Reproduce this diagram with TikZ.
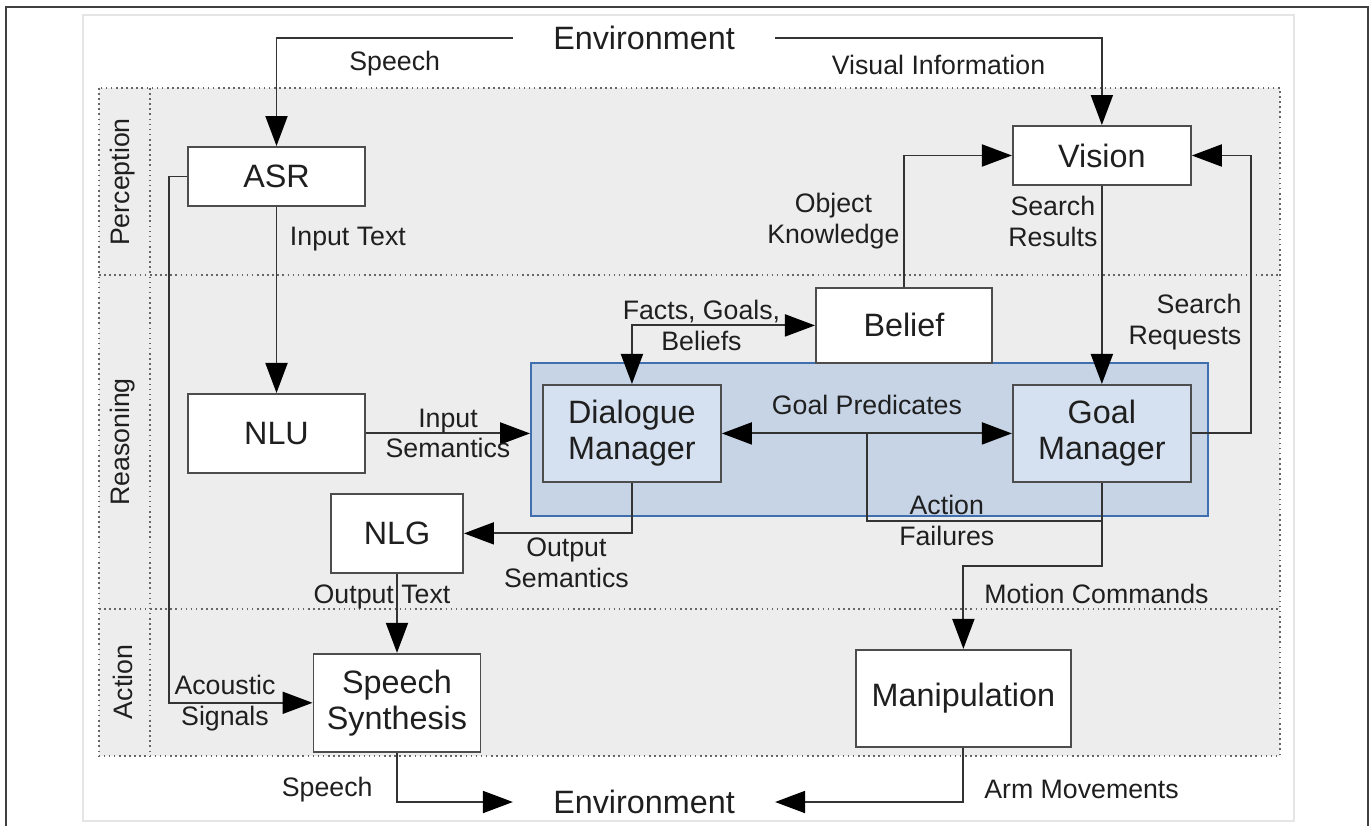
\documentclass[tikz,border=0pt]{standalone}
\usepackage{fontspec}
\setmainfont{Liberation Sans}
\usetikzlibrary{arrows.meta,positioning,fit,backgrounds,calc}

\definecolor{linegray}{HTML}{333333}
\definecolor{boxedge}{HTML}{4D4D4D}
\definecolor{layerfill}{HTML}{EDEDED}
\definecolor{groupfill}{HTML}{C6D4E6}
\definecolor{groupedge}{HTML}{3F6FAE}
\definecolor{mgrfill}{HTML}{D5E1F0}

\begin{document}
\begin{tikzpicture}[
    font=\fontsize{18.4}{20.5}\selectfont,
    >={Triangle[length=0.6cm,width=0.44cm,color=black]},
    box/.style={draw=boxedge, line width=1.1pt, fill=white, rectangle, minimum width=3.54cm, minimum height=1.18cm, align=center, text=black!88},
    mgr/.style={box, fill=mgrfill, minimum width=3.56cm, minimum height=1.94cm},
    env/.style={inner xsep=0.8cm, inner ysep=0pt, text=black!88},
    lbl/.style={font=\fontsize{15.2}{17.6}\selectfont, inner sep=2pt, align=center, text=black!88},
    flow/.style={draw=linegray, line width=1.1pt, ->},
    layer/.style={draw=black!60, dotted, line width=0.9pt}
]
\useasboundingbox (0,0) rectangle (27.4,-16.52);

\node[box] (asr) at (5.53,-3.53) {ASR};
\node[box, below=3.72cm of asr, minimum height=1.58cm] (nlu) {NLU};
\node[mgr, right=3.52cm of nlu] (dm) {Dialogue\\Manager};
\node[mgr, right=5.8cm of dm] (goal) {Goal\\Manager};
\node[box, above=3.96cm of goal, minimum width=3.56cm] (vision) {Vision};
\node[box, below left=2.02cm and 0.38cm of vision, minimum width=3.52cm, minimum height=1.5cm] (belief) {Belief};
\node[box, below=0.38cm of nlu, xshift=2.41cm, minimum width=2.64cm, minimum height=1.58cm] (nlg) {NLG};
\node[box, below=1.58cm of nlg, minimum width=3.34cm, minimum height=1.96cm] (ss) {Speech\\Synthesis};
\node[box, below=3.32cm of goal, xshift=-2.77cm, minimum width=4.3cm, minimum height=1.94cm] (manip) {Manipulation};

\node[env] (envtop) at (12.88,-0.76) {Environment};
\node[env] (envbot) at (12.88,-16.04) {Environment};

\node[lbl, rotate=90] (perception) at (2.46,-3.64) {Perception};
\node[lbl, rotate=90] (reasoning) at (2.46,-8.84) {Reasoning};
\node[lbl, rotate=90] (action) at (2.46,-13.64) {Action};

\coordinate (groupnw) at ($(dm.north west)+(-0.22,0.42)$);
\coordinate (groupse) at ($(goal.south east)+(0.32,-0.66)$);

\begin{scope}[on background layer]
    \draw[black!75, line width=0.8pt] (0.12,-16.52) -- (0.12,-0.14) -- (27.36,-0.14) -- (27.36,-16.52);
    \draw[black!10, line width=0.6pt] (1.66,-0.3) rectangle (25.88,-16.42);
    \fill[layerfill] (1.98,-1.76) rectangle (25.6,-15.12);
    \draw[layer] (1.98,-1.76) rectangle (25.6,-15.12);
    \draw[layer] (1.98,-5.5) -- (25.6,-5.5);
    \draw[layer] (1.98,-12.18) -- (25.6,-12.18);
    \draw[layer] (3.0,-1.76) -- (3.0,-15.12);
    \node[draw=groupedge, fill=groupfill, line width=1.1pt, inner sep=0pt, fit=(groupnw) (groupse)] (dmgroup) {};
\end{scope}

% perception
\draw[flow] (envtop.west) -| node[lbl, pos=0.25, below, yshift=-0.17cm] {Speech} (asr.north);
\draw[flow] (envtop.east) -| node[lbl, pos=0.25, below, yshift=-0.25cm] {Visual Information} (vision.north);
\draw[flow] (asr) -- node[lbl, pos=0.17, right, xshift=0.18cm] {Input Text} (nlu);
\draw[flow] (asr.west) -- ++(-0.36,0) |- node[lbl, pos=0.695] {Acoustic\\Signals} (ss.west);

% reasoning
\draw[flow] (nlu.east) -- node[lbl] {Input\\Semantics} (nlu.east -| dmgroup.west);
\draw[flow] (dm.south) |- node[lbl, pos=0.695, below] {Output\\Semantics} (nlg.east);
\draw[flow] (nlg.south) -- node[lbl, pos=0.29, xshift=-0.3cm] {Output Text} (nlg.south |- ss.north);
\draw[flow, <->] (dm.north) |- node[lbl, pos=0.69] {Facts, Goals,\\Beliefs} (belief.west);
\draw[flow] (belief.north) |- node[lbl, pos=0.25, left] {Object\\Knowledge} (vision.west);
\draw[flow] (vision) -- node[lbl, pos=0.18, left] {Search\\Results} (goal);
\draw[flow] (goal.east) -- ++(1.18,0) |- node[lbl, pos=0.2, left, align=right, xshift=-0.1cm] {Search\\Requests} (vision.east);
\draw[flow, <->] (dm) -- node[lbl, above, yshift=0.28cm] {Goal Predicates} (goal);
\coordinate (gpmid) at ($(dm.east)!0.5!(goal.west)$);
\draw[draw=linegray, line width=1.1pt] (goal.south) -- ++(0,-0.76) -| node[lbl, pos=0.33] {Action\\Failures} (gpmid);

% action
\draw[flow] (goal.south) -- ++(0,-1.66) -| node[lbl, pos=0.67, right, xshift=0.33cm] {Motion Commands} (manip.north);
\draw[flow] (ss.south) |- node[lbl, pos=0.375, left, xshift=-0.4cm] {Speech} (envbot.west);
\draw[flow] (manip.south) |- node[lbl, pos=0.38, right, xshift=0.33cm] {Arm Movements} (envbot.east);

\end{tikzpicture}
\end{document}
